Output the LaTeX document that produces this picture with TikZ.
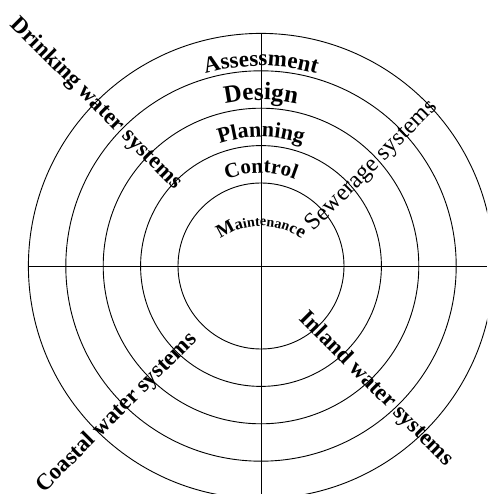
\documentclass[tikz,border=0pt]{standalone}
\usepackage{fontspec}
\setmainfont{Liberation Serif}
\usetikzlibrary{decorations.text}
\tikzset{
  ring/.style={draw=black,line width=0.9pt},
  sector/.style={font=\fontsize{23}{23}\selectfont\bfseries,inner sep=0pt},
  arctext/.style={decorate,decoration={text along path,text align=center,text={#1}}}
}
\begin{document}
\begin{tikzpicture}[x=1pt,y=1pt]
  \useasboundingbox (-261,-228) rectangle (226,266);
  \clip (-261,-228) rectangle (226,266);
  \foreach \r in {83,120.4,157.8,195.2,232.6}
    \draw[ring] (0,0) circle[radius=\r];
  \coordinate (top) at (90:232.6);
  \coordinate (left) at (180:232.6);
  \draw[ring] (top) -- (0,-228);
  \draw[ring] (left) -- (226,0);
  \path[arctext={|\fontsize{23}{23}\selectfont\bfseries|Assessment}] (160:200) arc[start angle=160,end angle=20,radius=200];
  \path[arctext={|\fontsize{25}{25}\selectfont\bfseries|Design}] (160:166) arc[start angle=160,end angle=20,radius=166];
  \path[arctext={|\fontsize{22}{22}\selectfont\bfseries|Planning}] (160:129) arc[start angle=160,end angle=20,radius=129];
  \path[arctext={|\fontsize{21}{21}\selectfont\bfseries|Control}] (160:93) arc[start angle=160,end angle=20,radius=93];
  \path[arctext={|\fontsize{19}{19}\selectfont\bfseries|M|\fontsize{16}{16}\selectfont\bfseries|a|\fontsize{14}{14}\selectfont\bfseries|intenan|\fontsize{16}{16}\selectfont\bfseries|c|\fontsize{19}{19}\selectfont\bfseries|e}] ([shift={(0,-30)}]160:70) arc[start angle=160,end angle=20,radius=70];
  \node[sector,rotate=-45] (drinking) at (-165,162) {Drinking water systems};
  \node[sector,rotate=45,font=\fontsize{24}{24}\selectfont] (sewerage) at (111,100) {Sewerage systems};
  \node[sector,rotate=45] (coastal) at (-144,-147) {Coastal water systems};
  \node[sector,rotate=-45] (inland) at (115,-123) {Inland water systems};
\end{tikzpicture}
\end{document}
